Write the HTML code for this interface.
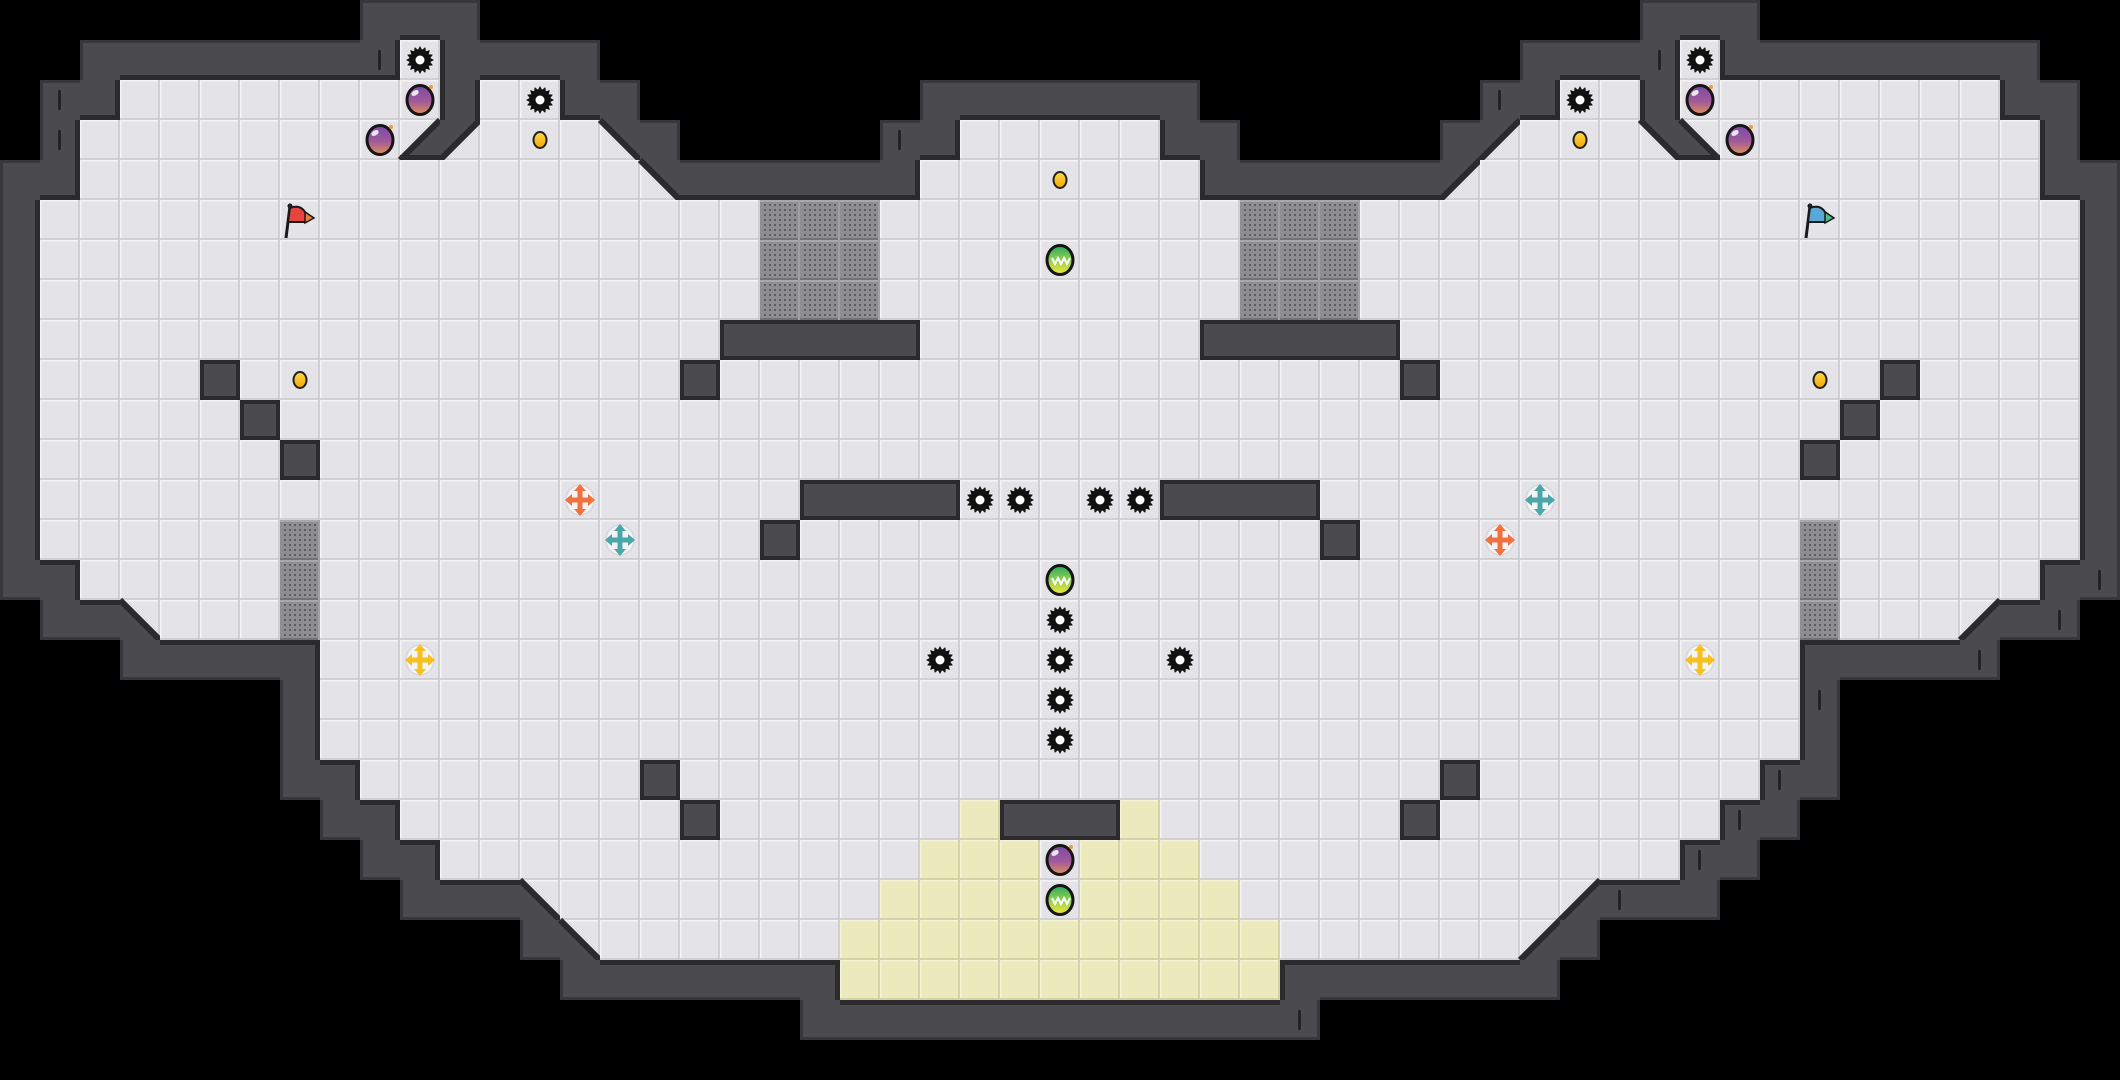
<!DOCTYPE html>
<html><head><meta charset="utf-8">
<style>
html,body{margin:0;padding:0;background:#000;width:2120px;height:1080px;overflow:hidden}
svg{display:block}
</style></head>
<body>
<div id="root"></div>
<script>
const W=53,H=27,S=40;
const m=Array.from({length:H},()=>Array(W).fill(' '));
function f(r,a,b,ch){ch=ch||'.';for(let c=a;c<=b;c++)m[r][c]=ch;}
// floor
m[1][10]='.';m[1][42]='.';
f(2,3,10);f(2,12,13);f(2,39,40);f(2,42,49);
f(3,2,9);f(3,12,14);f(3,24,28);f(3,38,40);f(3,43,50);
m[3][10]='q';m[3][11]='e';m[3][15]='d';m[3][37]='e';m[3][41]='d';m[3][42]='p';
f(4,2,15);f(4,23,29);f(4,37,50);m[4][16]='d';m[4][36]='e';
for(let r=5;r<=13;r++)f(r,1,51);
f(14,2,50);
f(15,4,48);m[15][3]='p';m[15][49]='q';
for(let r=16;r<=18;r++)f(r,8,44);
f(19,9,43);f(20,10,42);f(21,11,41);
f(22,14,38);m[22][13]='p';m[22][39]='q';
f(23,15,37);m[23][14]='p';m[23][38]='q';
// yellow
m[20][24]='y';m[20][28]='y';
f(21,23,29,'y');m[21][26]='.';
f(22,22,30,'y');m[22][26]='.';
f(23,21,31,'y');f(24,21,31,'y');
// grey
for(let r=5;r<=7;r++){f(r,19,21,'g');f(r,31,33,'g');}
for(let r=13;r<=15;r++){m[r][7]='g';m[r][45]='g';}
// blocks
f(8,18,22,'b');f(8,30,34,'b');
[[9,5],[9,17],[9,35],[9,47],[10,6],[10,46],[11,7],[11,45],[13,19],[13,33],[19,16],[19,36],[20,17],[20,35]].forEach(([r,c])=>m[r][c]='b');
f(12,20,23,'b');f(12,29,32,'b');f(20,25,27,'b');
const isF=ch=>ch==='.'||ch==='y'||ch==='g';
const get=(r,c)=>(r<0||c<0||r>=H||c>=W)?' ':m[r][c];
// walls
const walls=[];
for(let r=0;r<H;r++)for(let c=0;c<W;c++){
  if(m[r][c]!==' ')continue;
  let adj=false;
  for(let dr=-1;dr<=1;dr++)for(let dc=-1;dc<=1;dc++){if(isF(get(r+dr,c+dc)))adj=true;}
  if(adj)walls.push([r,c]);
}
walls.forEach(([r,c])=>m[r][c]='#');

let o=[];
o.push(`<svg xmlns="http://www.w3.org/2000/svg" width="2120" height="1080" viewBox="0 0 2120 1080">
<defs>
<pattern id="fl" width="40" height="40" patternUnits="userSpaceOnUse">
<rect width="40" height="40" fill="#e4e4e8"/><rect x="0" y="0" width="40" height="1.5" fill="#f3f3f5"/><rect x="0" y="0" width="1.5" height="40" fill="#f3f3f5"/>
<rect x="0" y="38" width="40" height="2" fill="#cfcfd4"/><rect x="38" y="0" width="2" height="40" fill="#cfcfd4"/></pattern>
<pattern id="yl" width="40" height="40" patternUnits="userSpaceOnUse">
<rect width="40" height="40" fill="#ece9bd"/><rect x="0" y="0" width="40" height="1.5" fill="#f5f3d6"/><rect x="0" y="0" width="1.5" height="40" fill="#f5f3d6"/>
<rect x="0" y="38" width="40" height="2" fill="#d6d2a3"/><rect x="38" y="0" width="2" height="40" fill="#d6d2a3"/></pattern>
<pattern id="gd" width="40" height="40" patternUnits="userSpaceOnUse">
<rect width="40" height="40" fill="#8e8e92"/><rect x="0" y="0" width="40" height="2" fill="#a8a8ab"/><rect x="0" y="38" width="40" height="2" fill="#737377"/><rect x="38" y="0" width="2" height="40" fill="#a0a0a3"/>
${(()=>{let s='';for(let i=0;i<7;i++)for(let j=0;j<7;j++)s+=`<rect x="${4+i*5}" y="${4+j*5}" width="2" height="2" fill="#5e5e62"/>`;return s;})()}
</pattern>
<linearGradient id="gp" x1="0" y1="0" x2="0" y2="1"><stop offset="0" stop-color="#7a4aa6"/><stop offset="0.55" stop-color="#a05a9a"/><stop offset="1" stop-color="#e3905a"/></linearGradient>
<linearGradient id="gg" x1="0" y1="0" x2="0" y2="1"><stop offset="0" stop-color="#2aa860"/><stop offset="0.5" stop-color="#8fd04a"/><stop offset="1" stop-color="#f2e63a"/></linearGradient>
<linearGradient id="gc" x1="0" y1="0" x2="0" y2="1"><stop offset="0" stop-color="#ffd84a"/><stop offset="1" stop-color="#f0a800"/></linearGradient>
</defs>
<rect width="2120" height="1080" fill="#000"/>`);
const WC='#4a4a4f',DK='#2b2b2e',ED='#38383c';
for(let r=0;r<H;r++)for(let c=0;c<W;c++){
  const ch=m[r][c],x=c*S,y=r*S;
  if(ch==='.')o.push(`<rect x="${x}" y="${y}" width="40" height="40" fill="url(#fl)"/>`);
  else if(ch==='y')o.push(`<rect x="${x}" y="${y}" width="40" height="40" fill="url(#yl)"/>`);
  else if(ch==='g')o.push(`<rect x="${x}" y="${y}" width="40" height="40" fill="url(#gd)"/>`);
  else if(ch==='#'){
    o.push(`<rect x="${x}" y="${y}" width="40" height="40" fill="${WC}"/>`);
  } else if('qpde'.includes(ch)){
    o.push(`<rect x="${x}" y="${y}" width="40" height="40" fill="url(#fl)"/>`);
    let pts,line;
    if(ch==='q'){pts=`${x+40},${y} ${x+40},${y+40} ${x},${y+40}`;line=[x+40,y,x,y+40];}
    if(ch==='p'){pts=`${x},${y} ${x+40},${y+40} ${x},${y+40}`;line=[x,y,x+40,y+40];}
    if(ch==='d'){pts=`${x},${y} ${x+40},${y} ${x+40},${y+40}`;line=[x,y,x+40,y+40];}
    if(ch==='e'){pts=`${x},${y} ${x+40},${y} ${x},${y+40}`;line=[x+40,y,x,y+40];}
    o.push(`<polygon points="${pts}" fill="${WC}"/>`);
    o.push(`<line x1="${line[0]}" y1="${line[1]}" x2="${line[2]}" y2="${line[3]}" stroke="${DK}" stroke-width="6"/>`);
  }
}
const edges=[[-1,0,'t'],[1,0,'b'],[0,-1,'l'],[0,1,'r']];
function strip(x,y,side,col,w){
  if(side==='t')return `<rect x="${x}" y="${y}" width="40" height="${w}" fill="${col}"/>`;
  if(side==='b')return `<rect x="${x}" y="${y+40-w}" width="40" height="${w}" fill="${col}"/>`;
  if(side==='l')return `<rect x="${x}" y="${y}" width="${w}" height="40" fill="${col}"/>`;
  return `<rect x="${x+40-w}" y="${y}" width="${w}" height="40" fill="${col}"/>`;
}
const diagWallSides={q:'br',p:'bl',d:'tr',e:'tl'};
for(let r=0;r<H;r++)for(let c=0;c<W;c++){
  const ch=m[r][c],x=c*S,y=r*S;
  if(ch==='#'){
    edges.forEach(([dr,dc,s])=>{const n=get(r+dr,c+dc);
      if(isF(n))o.push(strip(x,y,s,DK,5));
      else if(n===' ')o.push(strip(x,y,s,ED,3));});
  } else if(diagWallSides[ch]){
    edges.forEach(([dr,dc,s])=>{if(diagWallSides[ch].includes(s)&&isF(get(r+dr,c+dc)))o.push(strip(x,y,s,DK,5));});
  } else if(ch==='b'){
    o.push(`<rect x="${x+2}" y="${y+2}" width="36" height="36" fill="${WC}" stroke="${DK}" stroke-width="4"/>`);
  }
}
for(let r=0;r<H;r++)for(let c=0;c<W-1;c++){
  if(m[r][c]==='b'&&m[r][c+1]==='b')o.push(`<rect x="${c*S+36}" y="${r*S+4}" width="8" height="32" fill="${WC}"/>`);
}
[[1,9],[2,1],[3,1],[3,22],[1,41],[2,37],[14,52],[15,51],[16,49],[17,45],[19,44],[20,43],[21,42],[22,40],[25,32]].forEach(([r,c])=>{
  o.push(`<rect x="${c*S+18}" y="${r*S+10}" width="3" height="20" rx="1" fill="#232326"/>`);
});
const cx=c=>c*S+20,cy=r=>r*S+20;
function saw(r,c){
  const X=cx(c),Y=cy(r);let p=[];const n=16;
  for(let i=0;i<n*2;i++){const a=Math.PI*i/n;const rr=i%2?10.5:14;p.push((X+rr*Math.cos(a)).toFixed(1)+','+(Y+rr*Math.sin(a)).toFixed(1));}
  return `<polygon points="${p.join(' ')}" fill="#111"/><circle cx="${X}" cy="${Y}" r="4.5" fill="#fff"/>`;
}
function coin(r,c){const X=cx(c),Y=cy(r);return `<ellipse cx="${X}" cy="${Y}" rx="6.5" ry="8" fill="url(#gc)" stroke="#222" stroke-width="2"/>`;}
function gemP(r,c){const X=cx(c),Y=cy(r);return `<ellipse cx="${X}" cy="${Y}" rx="13" ry="14.5" fill="url(#gp)" stroke="#151515" stroke-width="3"/><ellipse cx="${X-5}" cy="${Y-7}" rx="4" ry="2.5" fill="#fff" opacity="0.85" transform="rotate(-30 ${X-5} ${Y-7})"/><circle cx="${X+11}" cy="${Y-13}" r="2" fill="#f29a3a"/>`;}
function gemG(r,c){const X=cx(c),Y=cy(r);return `<ellipse cx="${X}" cy="${Y}" rx="13" ry="14.5" fill="url(#gg)" stroke="#151515" stroke-width="3"/><path d="M${X-8},${Y-2} l3,6 l3,-6 l3,6 l3,-6 l3,6 l3,-6" fill="none" stroke="#fff" stroke-width="2"/>`;}
function flag(r,c,a,b){const X=cx(c),Y=cy(r);return `<line x1="${X-14}" y1="${Y+18}" x2="${X-10}" y2="${Y-14}" stroke="#1a1a1a" stroke-width="3"/><circle cx="${X-10}" cy="${Y-14}" r="2.5" fill="#1a1a1a"/><path d="M${X-10},${Y-12} Q${X},${Y-16} ${X+5},${Y-8} L${X+12},${Y-2} L${X+5},${Y+2} Q${X-2},${Y+2} ${X-12},${Y+2} Z" fill="${a}" stroke="#1a1a1a" stroke-width="2"/><path d="M${X+5},${Y-8} L${X+14},${Y-2} L${X+5},${Y+3} Z" fill="${b}" stroke="#1a1a1a" stroke-width="1.5"/>`;}
function cross(r,c,col){const X=cx(c),Y=cy(r);
  return `<ellipse cx="${X}" cy="${Y}" rx="14" ry="15" fill="#f4f4f6" stroke="#d8d8dc" stroke-width="1.5"/>
  <line x1="${X-10}" y1="${Y}" x2="${X+10}" y2="${Y}" stroke="${col}" stroke-width="5"/><line x1="${X}" y1="${Y-11}" x2="${X}" y2="${Y+11}" stroke="${col}" stroke-width="5"/>
  <polygon points="${X-15},${Y} ${X-8},${Y-6} ${X-8},${Y+6}" fill="${col}"/><polygon points="${X+15},${Y} ${X+8},${Y-6} ${X+8},${Y+6}" fill="${col}"/>
  <polygon points="${X},${Y-16} ${X-6},${Y-9} ${X+6},${Y-9}" fill="${col}"/><polygon points="${X},${Y+16} ${X-6},${Y+9} ${X+6},${Y+9}" fill="${col}"/>`;}
[[1,10],[2,13],[1,42],[2,39],[12,24],[12,25],[12,27],[12,28],[15,26],[16,26],[17,26],[18,26],[16,23],[16,29]].forEach(([r,c])=>o.push(saw(r,c)));
[[3,13],[3,39],[4,26],[9,7],[9,45]].forEach(([r,c])=>o.push(coin(r,c)));
[[2,10],[3,9],[2,42],[3,43],[21,26]].forEach(([r,c])=>o.push(gemP(r,c)));
[[6,26],[14,26],[22,26]].forEach(([r,c])=>o.push(gemG(r,c)));
o.push(flag(5,7,'#e8453e','#f07a3a'));
o.push(flag(5,45,'#5aa8d8','#4cc080'));
o.push(cross(12,14,'#f0703e'));o.push(cross(13,37,'#f0703e'));
o.push(cross(13,15,'#4aa8a8'));o.push(cross(12,38,'#4aa8a8'));
o.push(cross(16,10,'#f5c020'));o.push(cross(16,42,'#f5c020'));
o.push('</svg>');
document.getElementById('root').innerHTML=o.join('');
</script>
</body></html>
